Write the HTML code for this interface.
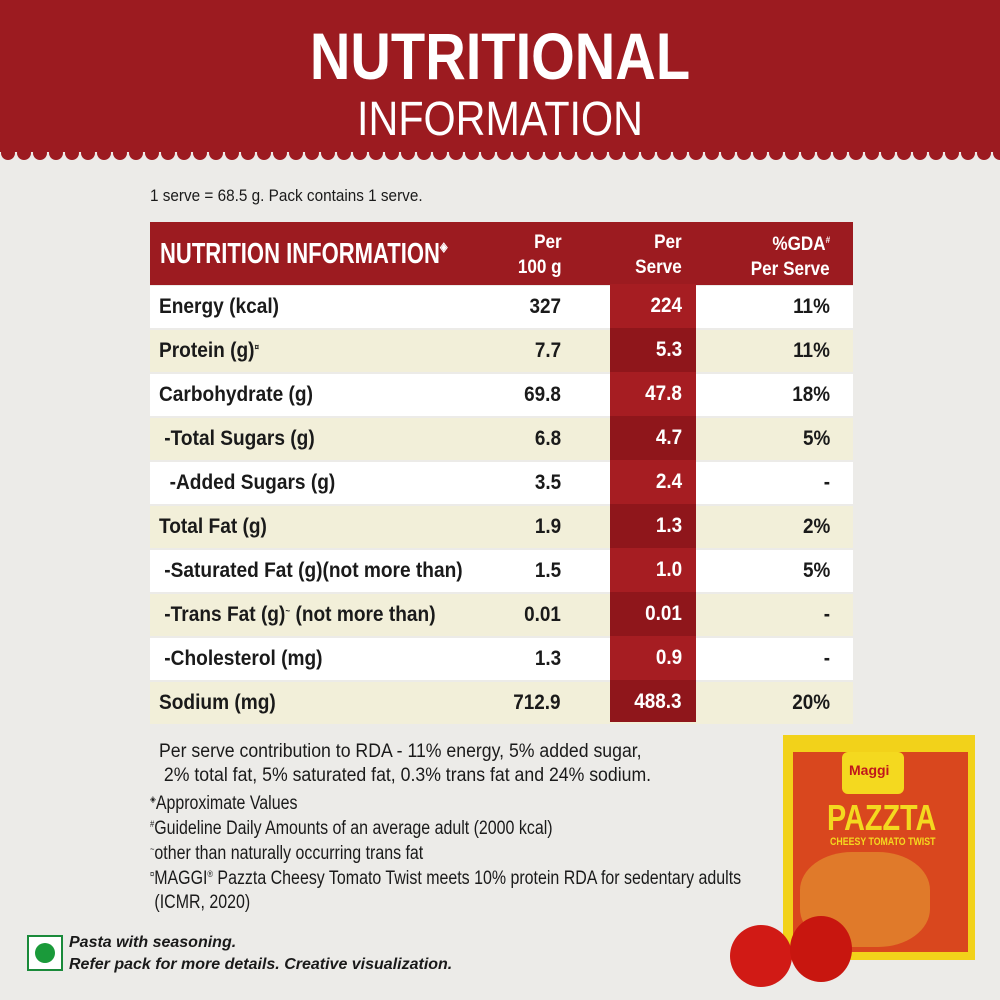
<!DOCTYPE html>
<html><head><meta charset="utf-8"><style>
*{margin:0;padding:0;box-sizing:border-box}
body{width:1000px;height:1000px;background:#ecebe8;position:relative;overflow:hidden;font-family:"Liberation Sans",sans-serif;color:#1a1a1a}
.hdr{position:absolute;left:0;top:0;width:1000px;height:152px;background:#9c1b20}
.t1{position:absolute;left:0;width:1000px;text-align:center;color:#fff}
.abs{position:absolute}
.sl{display:inline-block;transform:scaleX(0.91);transform-origin:left center;white-space:nowrap}
.sr{display:inline-block;transform:scaleX(0.9);transform-origin:right center;white-space:nowrap}
.row{position:absolute;left:150px;width:703px;height:42px;font-weight:bold;font-size:21px;line-height:42px}
.row .l{position:absolute;left:9px}
.row .a{position:absolute;right:292px}
.row .c{position:absolute;right:23px}
.w{background:#fff}.y{background:#f2efd9}
.red{position:absolute;left:610px;width:86px;color:#fff;text-align:right;padding-right:14px;font-weight:bold;font-size:21px;line-height:44px;height:44px}
.fn{position:absolute;left:150px;font-size:19px;line-height:24px;height:24px;white-space:nowrap;transform-origin:left top;transform:scaleX(0.84)}
.s{font-size:9px;position:relative;top:-7px;line-height:0}
</style></head><body>
<div class="hdr"></div>
<svg class="abs" style="left:0;top:146px" width="1000" height="18"><defs><pattern id="sc" width="16" height="18" patternUnits="userSpaceOnUse"><rect width="16" height="6" fill="#9c1b20"/><circle cx="8" cy="7" r="7" fill="#9c1b20"/></pattern></defs><rect width="1000" height="18" fill="url(#sc)"/></svg>
<div class="t1" style="top:18px;font-size:66px;font-weight:bold;line-height:76px;transform:scaleX(0.85)">NUTRITIONAL</div>
<div class="t1" style="top:92px;font-size:48px;line-height:56px;transform:scaleX(0.86)">INFORMATION</div>
<div class="abs" style="left:150px;top:186px;font-size:17px;transform:scaleX(0.9);transform-origin:left top;white-space:nowrap">1 serve = 68.5 g. Pack contains 1 serve.</div>
<div class="abs" style="left:150px;top:222px;width:703px;height:63px;background:#9c1b20"></div>
<div class="abs" style="left:160px;top:238px;color:#fff;font-weight:bold;font-size:29px;transform:scaleX(0.76);transform-origin:left top;white-space:nowrap">NUTRITION INFORMATION<span style="font-size:13px;position:relative;top:-12px">◈</span></div>
<div class="abs" style="left:490px;top:230px;width:72px;text-align:right;color:#fff;font-weight:bold;font-size:19px;line-height:25px"><span class="sr">Per</span><br><span class="sr">100 g</span></div>
<div class="abs" style="left:610px;top:230px;width:72px;text-align:right;color:#fff;font-weight:bold;font-size:19px;line-height:25px"><span class="sr">Per</span><br><span class="sr">Serve</span></div>
<div class="abs" style="left:700px;top:232px;width:130px;text-align:right;color:#fff;font-weight:bold;font-size:19px;line-height:25px"><span class="sr">%GDA<span class="s">#</span></span><br><span class="sr">Per Serve</span></div>

<div class="row w" style="top:286px"><span class="l sl">Energy (kcal)</span><span class="a sr">327</span><span class="c sr">11%</span></div>
<div class="row y" style="top:330px"><span class="l sl">Protein (g)<span class="s">¤</span></span><span class="a sr">7.7</span><span class="c sr">11%</span></div>
<div class="row w" style="top:374px"><span class="l sl">Carbohydrate (g)</span><span class="a sr">69.8</span><span class="c sr">18%</span></div>
<div class="row y" style="top:418px"><span class="l sl">&nbsp;-Total Sugars (g)</span><span class="a sr">6.8</span><span class="c sr">5%</span></div>
<div class="row w" style="top:462px"><span class="l sl">&nbsp;&nbsp;-Added Sugars (g)</span><span class="a sr">3.5</span><span class="c sr">-</span></div>
<div class="row y" style="top:506px"><span class="l sl">Total Fat (g)</span><span class="a sr">1.9</span><span class="c sr">2%</span></div>
<div class="row w" style="top:550px"><span class="l sl">&nbsp;-Saturated Fat (g)(not more than)</span><span class="a sr">1.5</span><span class="c sr">5%</span></div>
<div class="row y" style="top:594px"><span class="l sl">&nbsp;-Trans Fat (g)<span class="s">~</span> (not more than)</span><span class="a sr">0.01</span><span class="c sr">-</span></div>
<div class="row w" style="top:638px"><span class="l sl">&nbsp;-Cholesterol (mg)</span><span class="a sr">1.3</span><span class="c sr">-</span></div>
<div class="row y" style="top:682px"><span class="l sl">Sodium (mg)</span><span class="a sr">712.9</span><span class="c sr">20%</span></div>

<div class="red" style="top:284px;background:#a61d22"><span class="sr">224</span></div>
<div class="red" style="top:328px;background:#8f161b"><span class="sr">5.3</span></div>
<div class="red" style="top:372px;background:#a61d22"><span class="sr">47.8</span></div>
<div class="red" style="top:416px;background:#8f161b"><span class="sr">4.7</span></div>
<div class="red" style="top:460px;background:#a61d22"><span class="sr">2.4</span></div>
<div class="red" style="top:504px;background:#8f161b"><span class="sr">1.3</span></div>
<div class="red" style="top:548px;background:#a61d22"><span class="sr">1.0</span></div>
<div class="red" style="top:592px;background:#8f161b"><span class="sr">0.01</span></div>
<div class="red" style="top:636px;background:#a61d22"><span class="sr">0.9</span></div>
<div class="red" style="top:680px;background:#8f161b;height:42px"><span class="sr">488.3</span></div>

<div class="fn" style="top:740px;left:159px;transform:scaleX(0.93)">Per serve contribution to RDA - 11% energy, 5% added sugar,</div>
<div class="fn" style="top:764px;left:159px;transform:scaleX(0.93)">&nbsp;2% total fat, 5% saturated fat, 0.3% trans fat and 24% sodium.</div>
<div class="fn" style="top:792px"><span class="s">◈</span>Approximate Values</div>
<div class="fn" style="top:817px"><span class="s">#</span>Guideline Daily Amounts of an average adult (2000 kcal)</div>
<div class="fn" style="top:842px"><span class="s">~</span>other than naturally occurring trans fat</div>
<div class="fn" style="top:867px"><span class="s">¤</span>MAGGI<span class="s">®</span> Pazzta Cheesy Tomato Twist meets 10% protein RDA for sedentary adults</div>
<div class="fn" style="top:891px">&nbsp;(ICMR, 2020)</div>

<div class="abs" style="left:27px;top:935px;width:36px;height:36px;border:2px solid #1a8a3a;background:#fff"></div>
<div class="abs" style="left:35px;top:943px;width:20px;height:20px;border-radius:50%;background:#1a9a3a"></div>
<div class="abs" style="left:69px;top:932px;font-size:16px;font-weight:bold;font-style:italic;line-height:22px;white-space:nowrap">Pasta with seasoning.<br>Refer pack for more details. Creative visualization.</div>

<div class="abs" style="left:783px;top:735px;width:192px;height:225px;background:#f2d21a"></div>
<div class="abs" style="left:793px;top:752px;width:175px;height:200px;background:#d9471e"></div>
<div class="abs" style="left:842px;top:752px;width:62px;height:42px;background:#f4d91f;border-radius:6px"></div>
<div class="abs" style="left:849px;top:762px;color:#c0161c;font-weight:bold;font-size:14px">Maggi</div>
<div class="abs" style="left:827px;top:797px;color:#f4d91f;font-weight:bold;font-size:36px;transform:scaleX(0.8);transform-origin:left top">PAZZTA</div>
<div class="abs" style="left:830px;top:836px;color:#f4d91f;font-weight:bold;font-size:11px;transform:scaleX(0.8);transform-origin:left top;white-space:nowrap">CHEESY TOMATO TWIST</div>
<div class="abs" style="left:800px;top:852px;width:130px;height:95px;background:#e07a2a;border-radius:40%"></div>
<div class="abs" style="left:730px;top:925px;width:62px;height:62px;border-radius:50%;background:#d11a15"></div>
<div class="abs" style="left:790px;top:916px;width:62px;height:66px;border-radius:50%;background:#c8160f"></div>
</body></html>
